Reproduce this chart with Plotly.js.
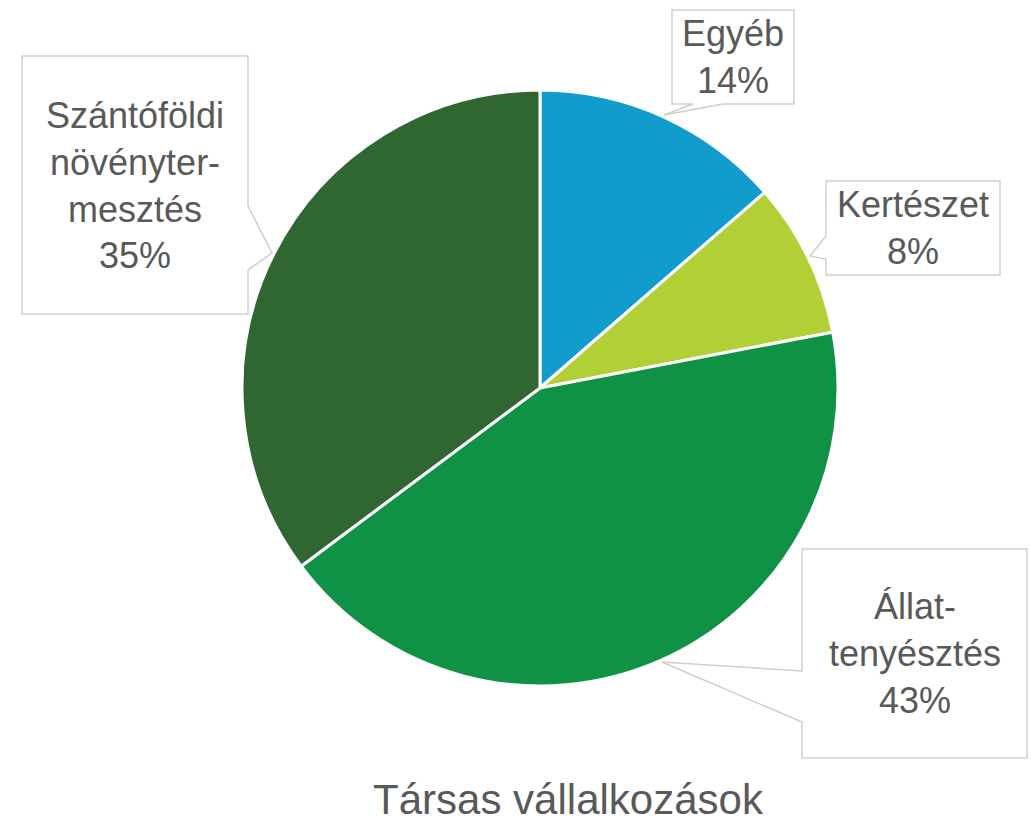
<!DOCTYPE html>
<html>
<head>
<meta charset="utf-8">
<script src="https://cdn.plot.ly/plotly-3.0.1.min.js"></script>
<style>html,body{margin:0;padding:0;background:#fff;}#chart{width:1031px;height:827px;}</style>
</head>
<body>
<div id="chart"></div>
<script>
// Data
const categories = ["Egyéb", "Kertészet", "Állat-<br>tenyésztés", "Szántóföldi<br>növényter-<br>mesztés"];
const values = [13.6, 8.4, 42.8, 35.2];
const colors = ["#129CCB", "#B1D036", "#0F9246", "#2F6632"];
const chartTitle = "Társas vállalkozások";

const W = 1031, H = 827;
const px = x => x / W;
const py = y => 1 - y / H;

// Callout geometry (pixels): box rect and pointer [edge point a, tip, edge point b]
const callouts = [
  {box: [672, 10, 794, 104], side: "bottom", ptr: [[693, 104], [664, 115], [723, 104]]},
  {box: [826, 181, 1000, 275], side: "left", ptr: [[826, 236], [810, 256], [826, 259]]},
  {box: [802, 549, 1027, 758], side: "left", ptr: [[802, 671], [662, 662], [802, 722]]},
  {box: [22, 56, 248, 314], side: "right", ptr: [[248, 206], [272, 253], [248, 270]]}
];

function bubblePath(c) {
  const [l, t, r, b] = c.box;
  const [a, tip, e] = c.ptr;
  let pts;
  if (c.side === "bottom") pts = [[l, t], [r, t], [r, b], [e[0], b], tip, [a[0], b], [l, b]];
  else if (c.side === "left") pts = [[l, t], [r, t], [r, b], [l, b], [l, e[1]], tip, [l, a[1]]];
  else pts = [[l, t], [r, t], [r, a[1]], tip, [r, e[1]], [r, b], [l, b]];
  return "M " + pts.map(p => px(p[0]) + "," + py(p[1])).join(" L ") + " Z";
}

const total = values.reduce((s, v) => s + v, 0);
const shapes = callouts.map(c => ({
  type: "path", xref: "paper", yref: "paper", path: bubblePath(c),
  fillcolor: "#FFFFFF", line: {color: "#CFCFCF", width: 1.5}, layer: "above"
}));
const annotations = callouts.map((c, i) => ({
  xref: "paper", yref: "paper",
  x: px((c.box[0] + c.box[2]) / 2), y: py((c.box[1] + c.box[3]) / 2),
  xanchor: "center", yanchor: "middle", showarrow: false, align: "center",
  text: categories[i] + "<br>" + Math.round(values[i] / total * 100) + "%",
  font: {family: "Liberation Sans, Arial, sans-serif", size: 36, color: "#595959"}
}));

const trace = {
  type: "pie",
  values: values,
  labels: categories,
  marker: {colors: colors, line: {color: "#FFFFFF", width: 3}},
  sort: false,
  direction: "clockwise",
  rotation: 0,
  textinfo: "none",
  hoverinfo: "none",
  domain: {x: [(540 - 298) / W, (540 + 298) / W], y: [(H - 388 - 298) / H, (H - 388 + 298) / H]},
  showlegend: false
};

const layout = {
  width: W, height: H,
  margin: {l: 0, r: 0, t: 0, b: 0},
  paper_bgcolor: "#FFFFFF",
  showlegend: false,
  title: {
    text: chartTitle, x: px(568), xanchor: "center", y: py(799), yanchor: "middle",
    font: {family: "Liberation Sans, Arial, sans-serif", size: 42, color: "#595959"}
  },
  shapes: shapes,
  annotations: annotations
};

Plotly.newPlot("chart", [trace], layout, {displayModeBar: false, staticPlot: true});
</script>
</body>
</html>
